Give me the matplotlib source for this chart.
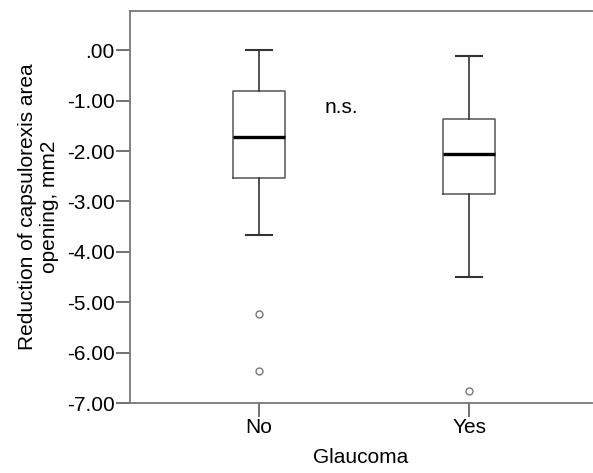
import matplotlib
matplotlib.use('Agg')
import matplotlib.pyplot as plt

# box statistics
groups = ['No', 'Yes']
whisker_hi = [0.00, -0.11]
q3 = [-0.80, -1.37]
medians = [-1.73, -2.06]
q1 = [-2.54, -2.86]
whisker_lo = [-3.66, -4.49]
outliers = [[-5.23, -6.36], [-6.77]]
yticks = [0, -1, -2, -3, -4, -5, -6, -7]

plt.rcParams['font.family'] = ['Liberation Sans', 'DejaVu Sans']

fig = plt.figure(figsize=(5.93, 4.73), dpi=100)
ax = fig.add_axes([130 / 593, 70 / 473, 462 / 593, 392 / 473])

stats = []
for i in range(len(groups)):
    stats.append({'label': groups[i], 'whishi': whisker_hi[i], 'q3': q3[i],
                  'med': medians[i], 'q1': q1[i], 'whislo': whisker_lo[i],
                  'fliers': outliers[i]})

ax.bxp(stats, positions=[1, 2], widths=0.25, showfliers=True,
       boxprops=dict(color='#555555', linewidth=1.1),
       medianprops=dict(color='black', linewidth=2.4),
       whiskerprops=dict(color='#333333', linewidth=1.2),
       capprops=dict(color='#333333', linewidth=1.5),
       capwidths=0.125,
       flierprops=dict(marker='o', markersize=5, markerfacecolor='white',
                       markeredgecolor='#777777', markeredgewidth=1.0))

ax.set_xlim(0.387, 2.585)
ax.set_ylim(-7, 0.78)
ax.set_yticks(yticks)
ax.set_yticklabels(['.00' if v == 0 else '%.2f' % v for v in yticks])
ax.set_xticks([1, 2])
ax.set_xticklabels(groups)

for s in ax.spines.values():
    s.set_color('#777777')
    s.set_linewidth(1.3)
ax.spines['right'].set_visible(False)
ax.tick_params(axis='both', length=10, width=1.3, color='#666666',
               labelsize=15, pad=1)

ax.text(1.315, -1.14, 'n.s.', fontsize=15, va='center', ha='left')

ax.set_ylabel('Reduction of capsulorexis area\nopening, mm2', fontsize=15,
              labelpad=6)
ax.set_xlabel('Glaucoma', fontsize=15, labelpad=8)

fig.savefig('out.png', dpi=100)
